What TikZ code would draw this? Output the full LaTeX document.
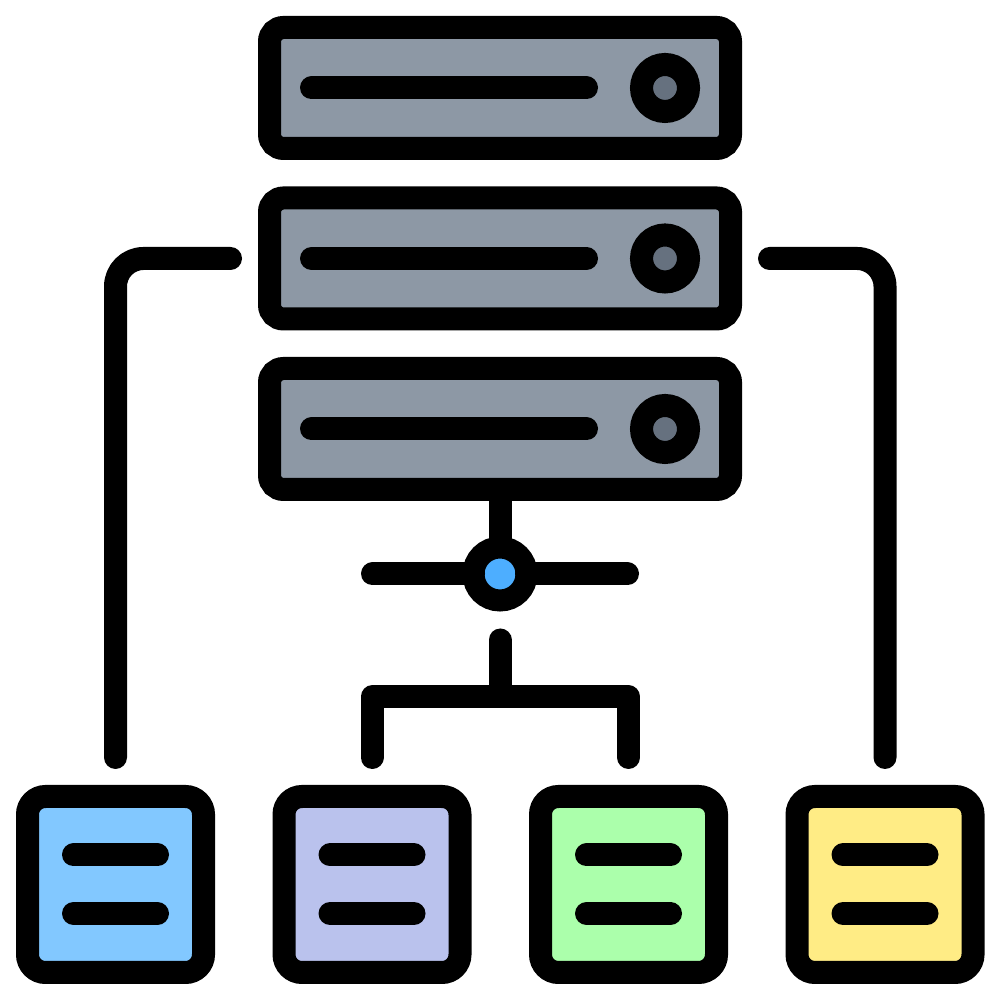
\documentclass[tikz,border=0pt]{standalone}
\usepackage{tikz}
\usetikzlibrary{positioning}
\definecolor{servergray}{HTML}{8D98A5}
\definecolor{diskgray}{HTML}{66717F}
\definecolor{hubblue}{HTML}{4DAEFF}
\definecolor{leafblue}{HTML}{82C8FF}
\definecolor{leafviolet}{HTML}{BAC2ED}
\definecolor{leafgreen}{HTML}{ABFFAB}
\definecolor{leafyellow}{HTML}{FFEC85}
\tikzset{
    wire/.style={line width=2.3mm, line cap=round, line join=round},
    server/.style={draw, line width=2.3mm, rectangle, rounded corners=1.4mm, fill=servergray, outer sep=0pt, inner sep=0pt, minimum width=4.61cm, minimum height=1.21cm},
    disk/.style={draw, line width=2.3mm, circle, fill=diskgray, outer sep=0pt, inner sep=0pt, minimum size=4.7mm},
    hub/.style={draw, line width=2.2mm, circle, fill=hubblue, outer sep=0pt, inner sep=0pt, minimum size=5.3mm},
    leaf/.style={draw, line width=2.3mm, rectangle, rounded corners=1.8mm, outer sep=0pt, inner sep=0pt, minimum size=1.76cm}
}
\begin{document}
\begin{tikzpicture}[node distance=0.495cm]
        % Server stack
        \useasboundingbox (0,0) rectangle (10,10);
        \node[server] (server1) at (5,9.12) {};
        \node[server, below=of server1] (server2) {};
        \node[server, below=of server2] (server3) {};
        \foreach \s in {server1,server2,server3} {
            \node[disk] (\s disk) at ([xshift=-0.655cm]\s.east) {};
            \draw[wire] ([xshift=0.42cm]\s.west) -- ([xshift=3.17cm]\s.west);
        }

        % Hub under the stack
        \node[hub, below=0.58cm of server3] (hub) {};
        \coordinate[left=1.01cm of hub.west] (hubleft);
        \coordinate[right=1.01cm of hub.east] (hubright);
        \draw[wire, line cap=butt] (server3) -- (hub);
        \draw[wire] (hubleft) -- (hub);
        \draw[wire] (hubright) -- (hub);

        % Leaf boxes
        \node[leaf, fill=leafblue] (leaf1) at (1.155,1.155) {};
        \node[leaf, fill=leafviolet, right=0.805cm of leaf1] (leaf2) {};
        \node[leaf, fill=leafgreen, right=0.805cm of leaf2] (leaf3) {};
        \node[leaf, fill=leafyellow, right=0.805cm of leaf3] (leaf4) {};
        \foreach \l in {leaf1,leaf2,leaf3,leaf4} {
            \draw[wire] ([xshift=-0.42cm,yshift=0.295cm]\l.center) -- ([xshift=0.42cm,yshift=0.295cm]\l.center);
            \draw[wire] ([xshift=-0.42cm,yshift=-0.29cm]\l.center) -- ([xshift=0.42cm,yshift=-0.29cm]\l.center);
        }

        % Tree to the two middle leaves
        \coordinate[below=0.395cm of hub.south] (treetop);
        \coordinate[below=0.57cm of treetop] (treejoin);
        \coordinate[above=0.39cm of leaf2.north] (treeleft);
        \coordinate[above=0.39cm of leaf3.north] (treeright);
        \draw[wire, shorten >=1mm] (treetop) -- (treejoin);
        \draw[wire] (treeleft) |- (treejoin) -| (treeright);

        % Outer links
        \coordinate[left=0.39cm of server2.west] (linkleft);
        \coordinate[right=0.39cm of server2.east] (linkright);
        \coordinate[above=0.39cm of leaf1.north] (leftdown);
        \coordinate[above=0.39cm of leaf4.north] (rightdown);
        \draw[wire, rounded corners=2.8mm] (linkleft) -| (leftdown);
        \draw[wire, rounded corners=2.8mm] (linkright) -| (rightdown);
    \end{tikzpicture}
\end{document}
